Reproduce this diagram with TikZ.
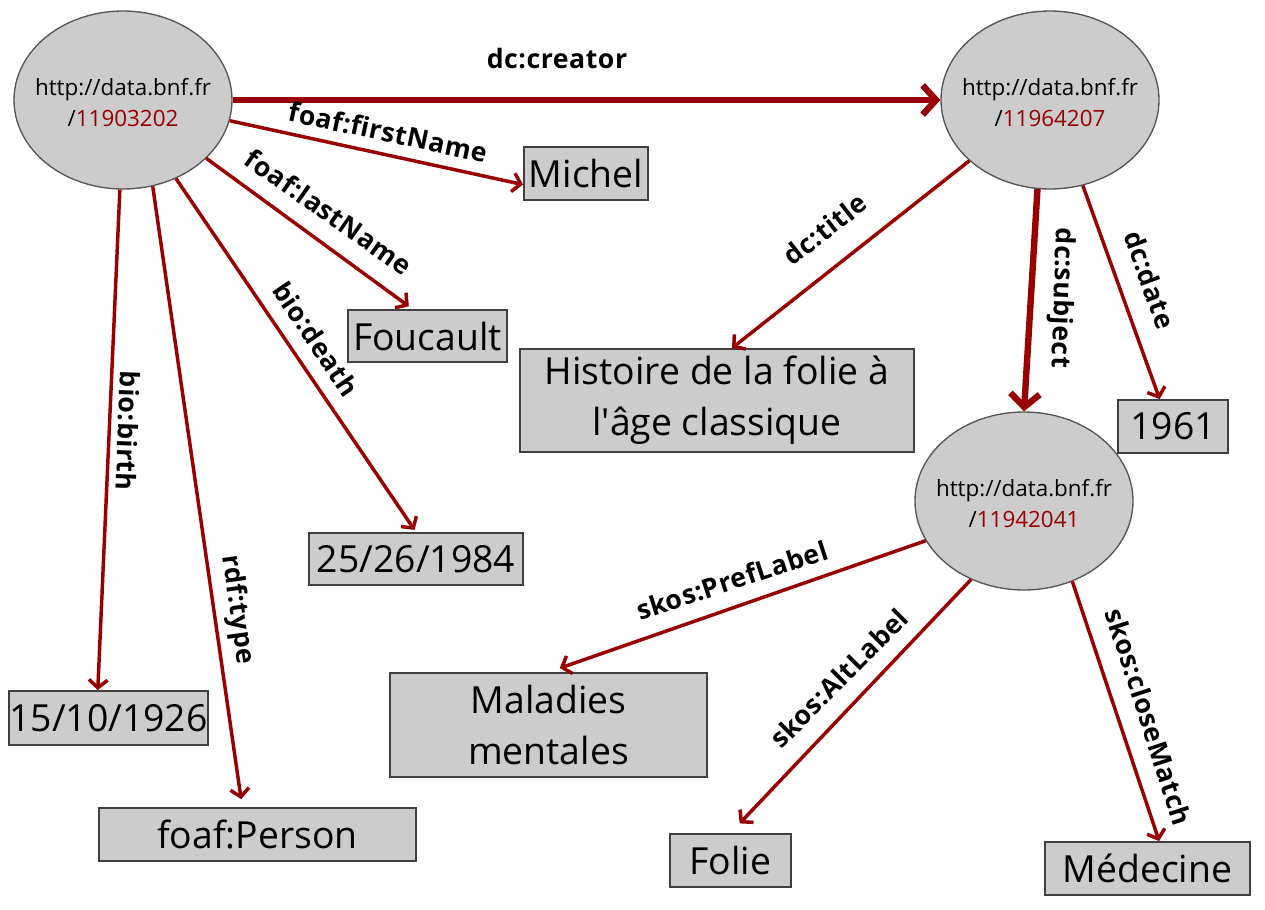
\documentclass[tikz,border=0pt]{standalone}
\usepackage{fontspec}
\setmainfont{Open Sans}
\newfontfamily\relfont{Open Sans}[LetterSpace=2]
\usetikzlibrary{shapes.geometric,arrows.meta}
\definecolor{relred}{RGB}{153,0,0}
\definecolor{nodegray}{RGB}{204,204,204}
\definecolor{edgegray}{RGB}{85,85,85}
\definecolor{boxedge}{RGB}{64,64,64}
\tikzset{
  res/.style={ellipse, draw=edgegray, line width=1pt, fill=nodegray,
    inner sep=0pt, minimum width=163.5pt, minimum height=133.5pt,
    label={[align=center, font=\fontsize{16.8}{23}\selectfont,
      yshift=-2pt]center:\bnfuri{#1}}},
  lit/.style={rectangle, draw=boxedge, line width=1.4pt, fill=nodegray,
    inner sep=0pt, align=center, font=\fontsize{28}{38.5}\selectfont},
  boxsize/.style 2 args={minimum width=#1*0.75pt, minimum height=#2*0.75pt},
  rel/.style={draw=relred, line width=2.6pt,
    -{Straight Barb[length=6pt,width=14pt]}},
  relbig/.style={rel, line width=4.8pt,
    -{Straight Barb[length=10pt,width=22pt]}},
  lab/.style={font=\relfont\fontsize{20}{20}\selectfont\bfseries,
    inner sep=0pt},
}
\newcommand{\bnfuri}[1]{http://data.bnf.fr\\/\textcolor{relred}{#1}}
\begin{document}
\begin{tikzpicture}[x=0.75pt, y=-0.75pt]
  \useasboundingbox (0,0) rectangle (1265,910);
  % resources
  \node[res=11903202] (person) at (123,100) {};
  \node[res=11964207] (work) at (1050,100) {};
  \node[res=11942041] (subject) at (1024,501) {};
  % literals
  \node[lit, boxsize={124}{53}] (michel) at (586,173.5) {Michel};
  \node[lit, boxsize={159}{52}] (foucault) at (427.5,336) {Foucault};
  \node[lit, boxsize={394}{103}] (title) at (717,400.5)
    {Histoire de la folie à\\l\textquotesingle âge classique};
  \node[lit, boxsize={110}{53}] (date) at (1173,426.5) {1961};
  \node[lit, boxsize={214}{52}] (death) at (416,559) {25/26/1984};
  \node[lit, boxsize={189}{54}] (birth) at (108.5,718) {15/10/1926};
  \node[lit, boxsize={317}{53}] (type) at (257.5,834.5) {foaf:Person};
  \node[lit, boxsize={317}{104}] (pref) at (548.5,725) {Maladies\\mentales};
  \node[lit, boxsize={121}{53}] (alt) at (730.5,860.5) {Folie};
  \node[lit, boxsize={205}{53}] (match) at (1147.5,868.5) {Médecine};
  % relations
  \draw[relbig] (person.east) -- (work.west);
  \draw[rel] (person.-11) -- (michel.190);
  \draw[rel, shorten >=3.5pt] (person.-35) -- (foucault.119);
  \draw[rel, shorten >=2pt] (person.-56) -- (death.north);
  \draw[rel, shorten >=6pt] (person.-71) -- (type.119);
  \draw[rel] (person.-92) -- (birth.111);
  \draw[rel] (work.217) -- (title.74);
  \draw[relbig] (work.-98) -- (subject.north);
  \draw[rel] (work.-69) -- (date.116);
  \draw[rel, shorten >=9pt] (subject.202) -- (pref.north);
  \draw[rel, shorten >=10pt] (subject.-124) -- (alt.north);
  \draw[rel] (subject.-59) -- (match.67);
  % labels
  \node[lab] (l-creator) at (557,59) {dc:creator};
  \node[lab, rotate=-12] (l-first) at (388,132) {foaf:firstName};
  \node[lab, rotate=-35] (l-last) at (329,212) {foaf:lastName};
  \node[lab, rotate=-56] (l-death) at (316,339) {bio:death};
  \node[lab, rotate=-92] (l-birth) at (128,431) {bio:birth};
  \node[lab, rotate=-82] (l-type) at (237,610) {rdf:type};
  \node[lab, rotate=38] (l-title) at (825,229) {dc:title};
  \node[lab, rotate=-92] (l-subject) at (1061,298) {dc:subject};
  \node[lab, rotate=-70] (l-date) at (1150,280) {dc:date};
  \node[lab, rotate=18] (l-pref) at (732,580) {skos:PrefLabel};
  \node[lab, rotate=45] (l-alt) at (839,678) {skos:AltLabel};
  \node[lab, rotate=-72] (l-match) at (1149,717) {skos:closeMatch};
\end{tikzpicture}
\end{document}
